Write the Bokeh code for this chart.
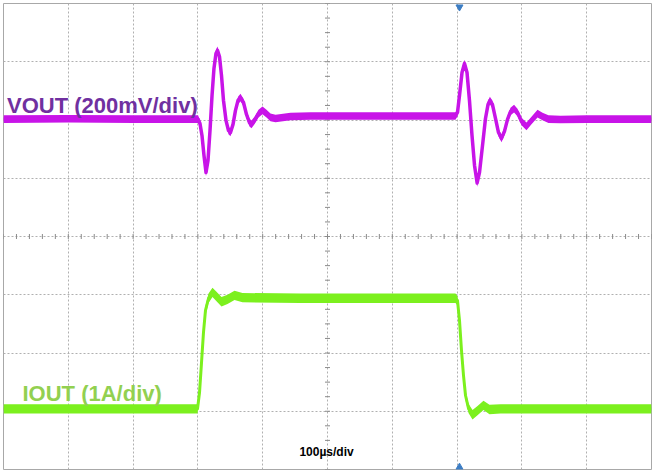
import numpy as np
from bokeh.plotting import figure
from bokeh.models import Range1d, FixedTicker, Label
from bokeh.embed import file_html
from bokeh.resources import INLINE

# ---- data ----
# time in microseconds (100 us/div), VOUT deviation in mV (200 mV/div), IOUT in A (1 A/div)
vout_t = [0, 100, 200, 300.2, 303.2, 306.3, 309.4, 312.5, 315.6, 318.7,
          321.8, 324.8, 327.9, 330.2, 333.3, 336.4, 339.5, 343.4, 347.2, 350.3,
          354.2, 358.0, 361.9, 365.7, 370.4, 375.0, 379.6, 382.7, 387.3, 393.5,
          399.7, 405.9, 412.0, 419.8, 442.9, 473.8, 600, 697.5, 700.6, 703.7,
          707.6, 711.4, 715.3, 719.1, 723.0, 726.9, 730.9, 734.6, 739.2, 743.8,
          747.7, 750.6, 754.6, 759.3, 763.9, 768.5, 773.1, 777.8, 782.4, 787.9,
          793.2, 799.4, 807.1, 814.8, 824.1, 831.8, 841.0, 859.6, 900, 1000]
vout_mv = [3, 4, 3, 3, -12, -53, -122, -180, -139, -36,
           84, 177, 228, 239, 218, 153, 67, -2, -36, -43,
           -15, 33, 67, 77, 60, 19, -9, -15, -2, 22,
           33, 22, 9, 5, 12, 14, 14, 14, 26, 84,
           163, 194, 163, 67, -53, -156, -216, -180, -88, 5,
           53, 67, 53, 5, -43, -63, -39, 2, 29, 39,
           26, -5, -22, -2, 22, 12, 3, 2, 3, 3]

iout_t = [0, 100, 200, 299.4, 302.5, 305.6, 308.6, 311.7, 316.4, 322.5,
          328.7, 336.4, 345.7, 356.5, 368.8, 458.3, 600, 697.5, 700.6, 703.7,
          706.8, 709.9, 713.0, 717.6, 723.8, 731.5, 740.7, 750, 766.9, 900,
          1000]
iout_a = [0.04, 0.04, 0.04, 0.04, 0.32, 0.84, 1.35, 1.73, 1.94, 2.04,
          1.97, 1.88, 1.92, 1.99, 1.95, 1.94, 1.94, 1.94, 1.90, 1.56,
          1.04, 0.61, 0.27, 0.05, -0.06, 0.01, 0.10, 0.03, 0.04, 0.04,
          0.04]

time_grid = [100, 200, 300, 400, 500, 600, 700, 800, 900]
div_grid = [-3, -2, -1, 0, 1, 2, 3]

VOUT_LABEL = "VOUT (200mV/div)"
IOUT_LABEL = "IOUT (1A/div)"
TIME_LABEL = "100µs/div"

# ---- channel scaling / positions ----
VOUT_SCALE = 200.0   # mV per div
IOUT_SCALE = 1.0     # A per div
VOUT_POS = 2.0       # div
IOUT_POS = -3.0      # div
TRIGGER_T = 703.7

VOUT_COLOR = "#C814E8"
IOUT_COLOR = "#7CF01E"

vout_div = VOUT_POS + np.array(vout_mv, dtype=float) / VOUT_SCALE
iout_div = IOUT_POS + np.array(iout_a, dtype=float) / IOUT_SCALE

p = figure(width=667, height=470,
           x_range=Range1d(0, 1000), y_range=Range1d(-4, 4),
           x_axis_location=None, y_axis_location=None,
           output_backend="svg", toolbar_location=None,
           min_border_left=3, min_border_right=16,
           min_border_top=3, min_border_bottom=1)
p.background_fill_color = "white"
p.border_fill_color = "white"
p.outline_line_color = "#A8A8A8"
p.outline_line_width = 1

p.xgrid.ticker = FixedTicker(ticks=time_grid)
p.ygrid.ticker = FixedTicker(ticks=div_grid)
for g in (p.xgrid, p.ygrid):
    g.grid_line_color = "#B0B0B0"
    g.grid_line_dash = "2 2"
    g.grid_line_width = 1

# minor ticks on the centre lines
hx = np.arange(0, 1001, 20)
p.scatter(hx, np.zeros_like(hx, dtype=float), marker="dash", size=5,
          angle=np.pi / 2, line_color="#8A8A8A", line_width=1)
vy = np.arange(-4, 4.01, 0.25)
p.scatter(np.full_like(vy, 500.0), vy, marker="dash", size=5,
          line_color="#8A8A8A", line_width=1)

# traces: noisy band + core line
VBAND = 0.065
IBAND = 0.08
p.varea(x=vout_t, y1=vout_div - VBAND, y2=vout_div + VBAND, fill_color=VOUT_COLOR)
p.line(vout_t, vout_div, line_color=VOUT_COLOR, line_width=3.5, line_join="round")
p.varea(x=iout_t, y1=iout_div - IBAND, y2=iout_div + IBAND, fill_color=IOUT_COLOR)
p.line(iout_t, iout_div, line_color=IOUT_COLOR, line_width=3, line_join="round")

# trigger markers
p.scatter([TRIGGER_T], [3.94], marker="inverted_triangle", size=7,
          fill_color="#3C7DC4", line_color="#3C7DC4")
p.scatter([TRIGGER_T], [-3.96], marker="triangle", size=7,
          fill_color="#3C7DC4", line_color="#3C7DC4")

font = "Liberation Sans"
p.add_layout(Label(x=5.4, y=2.249, text=VOUT_LABEL, text_font=font,
                   text_font_style="bold", text_font_size="22px",
                   text_color="#7030A0", text_baseline="alphabetic"))
p.add_layout(Label(x=29.3, y=-2.695, text=IOUT_LABEL, text_font=font,
                   text_font_style="bold", text_font_size="22px",
                   text_color="#92D050", text_baseline="alphabetic"))
p.add_layout(Label(x=498.5, y=-3.708, text=TIME_LABEL, text_font=font,
                   text_font_style="bold", text_font_size="12px",
                   text_color="black", text_align="center",
                   text_baseline="alphabetic"))

# channel level markers at the right edge
for yv, txt, col in [(VOUT_POS, "←2", VOUT_COLOR), (-2.0, "←1", IOUT_COLOR),
                     (IOUT_POS, "←3", IOUT_COLOR)]:
    p.add_layout(Label(x=1002, y=yv, text=txt, text_font=font,
                       text_font_size="10px", text_color=col,
                       text_baseline="middle"))

open("out.html", "w").write(file_html(p, INLINE))
